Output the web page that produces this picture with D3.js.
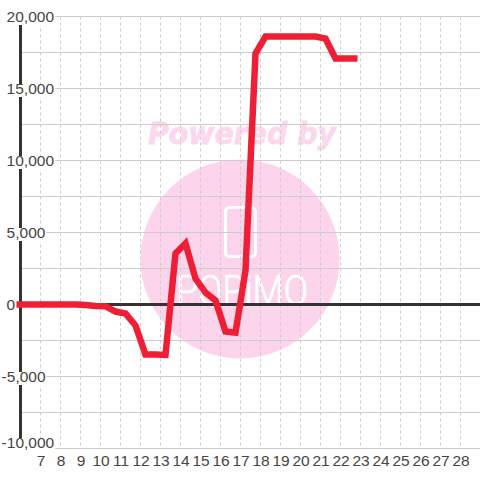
<!DOCTYPE html>
<html>
	<head>
		<meta charset="utf-8">
		<style type="text/css">
			html, body { margin: 0; padding: 0; background: #fff; }
			svg { display: block; }
			text { font-family: "Liberation Sans", sans-serif; }
			.grid line { stroke: #ccc; stroke-width: 1; }
			.vgrid line { stroke-dasharray: 3,3; }
			.tick-labels text { font-size: 15.5px; fill: #444; }
			.tick-labels .domain { display: none; }
		</style>
		<title>Chart</title>
	</head>
	<body>
		<script src="https://cdn.jsdelivr.net/npm/d3@7"></script>
		<script>
		var hours = [5.8, 6.25, 6.75, 7.25, 7.75, 8.25, 8.75, 9.25, 9.75, 10.25, 10.75, 11.25, 11.75, 12.25, 12.75, 13.25, 13.75, 14.25, 14.75, 15.25, 15.75, 16.25, 16.75, 17.25, 17.75, 18.25, 18.75, 19.25, 19.75, 20.25, 20.75, 21.25, 21.75, 22.25, 22.85];
		var values = [0, 0, 0, 0, 0, 0, 0, -40, -110, -120, -490, -625, -1460, -3470, -3480, -3500, 3540, 4240, 1800, 830, 280, -1875, -1950, 2360, 17430, 18610, 18610, 18610, 18610, 18610, 18610, 18470, 17080, 17080, 17080];
		var xTicks = [7, 8, 9, 10, 11, 12, 13, 14, 15, 16, 17, 18, 19, 20, 21, 22, 23, 24, 25, 26, 27, 28];
		var yGrid = [20000, 17500, 15000, 12500, 10000, 7500, 5000, 2500, -2500, -5000, -7500, -10000];
		var yLabels = [20000, 15000, 10000, 5000, 0, -5000, -10000];

		var x = d3.scaleLinear().domain([6, 29]).range([20.5, 480.5]);
		var y = d3.scaleLinear().domain([-10000, 20000]).range([448.5, 16.5]);

		var svg = d3.select("body").append("svg")
			.attr("width", 480)
			.attr("height", 480);

		// watermark
		var mark = svg.append("g");
		mark.append("circle")
			.attr("cx", 240)
			.attr("cy", 259)
			.attr("r", 99.5)
			.attr("fill", "#fcd5ec");
		mark.append("text")
			.attr("x", 148)
			.attr("y", 144)
			.attr("textLength", 188)
			.attr("lengthAdjust", "spacingAndGlyphs")
			.style("font-family", "DejaVu Sans")
			.style("font-weight", "bold")
			.style("font-style", "italic")
			.style("font-size", "30px")
			.attr("fill", "#fcd8ee")
			.attr("stroke", "#fcd8ee")
			.attr("stroke-width", 0.8)
			.text("Powered by");
		mark.append("rect")
			.attr("x", 225.5)
			.attr("y", 207.5)
			.attr("width", 30)
			.attr("height", 49)
			.attr("rx", 4)
			.attr("fill", "none")
			.attr("stroke", "#fff")
			.attr("stroke-width", 3);
		mark.append("text")
			.attr("x", 176)
			.attr("y", 305)
			.attr("textLength", 132)
			.attr("lengthAdjust", "spacingAndGlyphs")
			.style("font-family", "Roboto")
			.style("font-weight", 300)
			.style("font-size", "43px")
			.attr("fill", "#fff")
			.attr("stroke", "#fff")
			.attr("stroke-width", 0.7)
			.text("POPiMO");

		// grid
		svg.append("g").attr("class", "grid")
			.selectAll("line").data(yGrid).enter()
			.append("line")
			.attr("x1", x(6))
			.attr("x2", 480)
			.attr("y1", function(d){return y(d);})
			.attr("y2", function(d){return y(d);});
		svg.append("g").attr("class", "grid vgrid")
			.selectAll("line").data(xTicks).enter()
			.append("line")
			.attr("x1", function(d){return x(d);})
			.attr("x2", function(d){return x(d);})
			.attr("y1", y(20000))
			.attr("y2", y(-10000));

		// axes lines
		svg.append("line")
			.attr("x1", x(6)).attr("x2", x(6))
			.attr("y1", y(20000)).attr("y2", y(-10000))
			.attr("stroke", "#333").attr("stroke-width", 3);
		svg.append("line")
			.attr("x1", x(6)).attr("x2", 480)
			.attr("y1", y(0)).attr("y2", y(0))
			.attr("stroke", "#333").attr("stroke-width", 3);

		// labels
		var yFormat = d3.format(",");
		var yAxis = d3.axisLeft(y)
			.tickValues(yLabels)
			.tickSize(0)
			.tickFormat(function(d){ return yFormat(d).replace("\u2212", "-"); });
		var yg = svg.append("g").attr("class", "tick-labels").call(yAxis);
		yg.selectAll("text")
			.attr("text-anchor", "start")
			.attr("x", function(d){ return d < 0 ? 1.6 : 6.6; })
			.attr("dy", "0.3em")
			.attr("transform", function(d){ return d == -10000 ? "translate(0,-6)" : null; });
		yg.selectAll(".tick").insert("rect", "text")
			.attr("x", function(d){ return d < 0 ? 1 : 6; })
			.attr("y", function(d){ return d == -10000 ? -11 : -5; })
			.attr("width", function(){ return this.parentNode.querySelector("text").getBBox().width + 1; })
			.attr("height", 13)
			.attr("fill", "#fff");

		var xAxis = d3.axisBottom(x).tickValues(xTicks).tickSize(0).tickFormat(d3.format("d"));
		svg.append("g").attr("class", "tick-labels")
			.attr("transform", "translate(0,452)")
			.call(xAxis);

		// series
		var line = d3.line()
			.x(function(d){ return x(d); })
			.y(function(d, i){ return y(values[i]); });
		svg.append("path")
			.datum(hours)
			.attr("d", line)
			.attr("fill", "none")
			.attr("stroke", "#ee1f35")
			.attr("stroke-width", 6.5);
		</script>
	</body>
</html>
